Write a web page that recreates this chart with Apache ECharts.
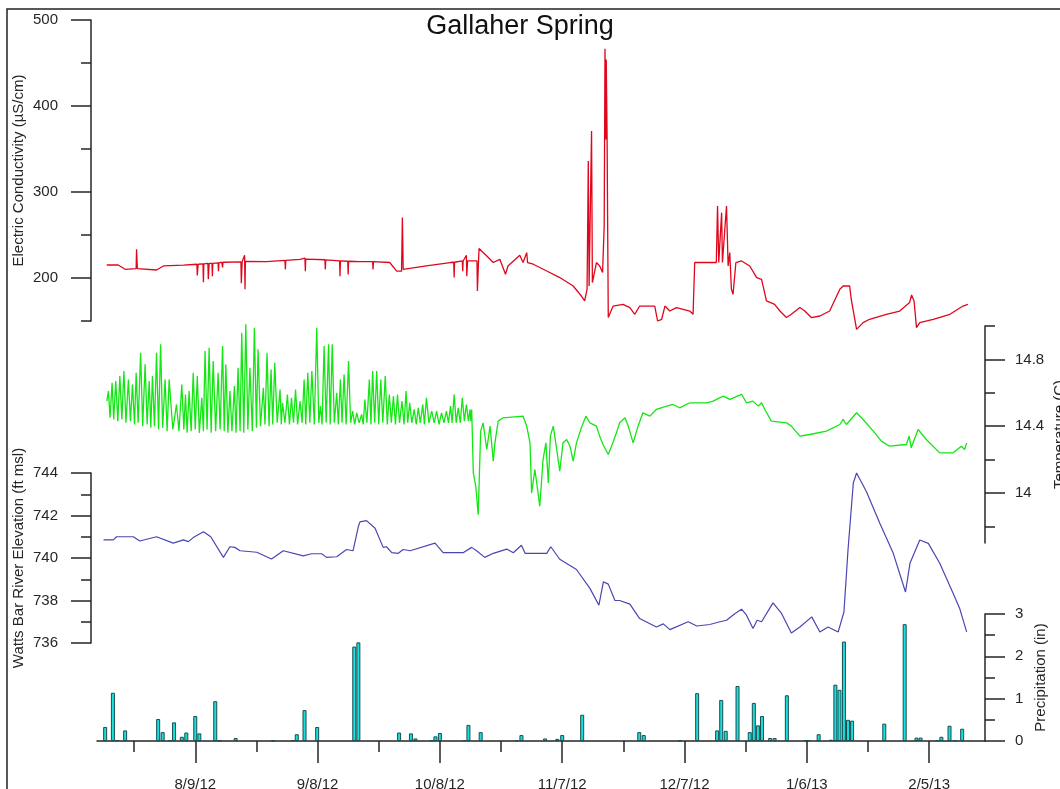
<!DOCTYPE html>
<html>
<head>
<meta charset="utf-8">
<title>Gallaher Spring</title>
<script src="https://cdn.jsdelivr.net/npm/echarts@6/dist/echarts.min.js"></script>
<style>
  html, body { margin: 0; padding: 0; background: #fff; }
  #chart { width: 1060px; height: 789px; }
</style>
</head>
<body>
<div id="chart"></div>
<script>
// x values are days counted from 8/9/12
const xMajorTicks = [0, 30, 60, 90, 120, 150, 180];
const xMinorTicks = [-15, 15, 45, 75, 105, 135, 165];

// Electric conductivity (uS/cm)
const ecData = [
  [-21.7, 215.1], [-18.9, 215.1], [-17.2, 210.1], [-14.5, 211], [-14.4, 233.4], [-14.2, 211], [-9.5, 209.3],
  [-7.8, 214], [-2.9, 215], [0.4, 216], [0.5, 203], [0.7, 216], [1.9, 216.5], [2.0, 195], [2.1, 216.5],
  [3.1, 217], [3.2, 198.5], [3.4, 217], [4.1, 217], [4.2, 202], [4.3, 217], [5.6, 217.7], [5.7, 207.8],
  [5.8, 217.7], [6.5, 218.3], [6.7, 212.4], [6.8, 218.3], [11.2, 218.8], [11.3, 193.8], [11.5, 218.8],
  [12.1, 226.4], [12.2, 187], [12.3, 219.4], [17.5, 219], [22.0, 220.6], [22.1, 210], [22.2, 220.6],
  [25.7, 221.7], [26.9, 223], [27.0, 207.8], [27.1, 222], [31.8, 221.2], [31.9, 210], [32.0, 221],
  [33.8, 220.6], [35.4, 220], [35.5, 202], [35.6, 220], [37.4, 219.5], [37.5, 204], [37.6, 219.5],
  [40.4, 219], [43.5, 219], [43.6, 210], [43.7, 219], [47.7, 218], [49.4, 208], [50.6, 208], [50.8, 270.2],
  [51.0, 210.1], [56.7, 214], [62.5, 218], [63.4, 218.3], [63.5, 200.5], [63.6, 218.3], [65.5, 219.8],
  [65.6, 207.8], [65.7, 219.8], [66.5, 226.4], [66.6, 202], [66.8, 219.8], [69.1, 219.8], [69.2, 184.9],
  [69.6, 234.2], [71.5, 225.6], [73.1, 218], [74.7, 221.7], [76.1, 204.3], [76.7, 214], [79.6, 226.4],
  [80.4, 218], [81.3, 229.5], [81.5, 218], [82.9, 216], [86.2, 208.1], [89.4, 200.5], [92.7, 190.7],
  [94.7, 179.1], [95.5, 173.3], [96.1, 186.9], [96.4, 336], [96.6, 190.7], [97.2, 371], [97.4, 194.7],
  [98.4, 218], [99.2, 214], [99.9, 206.3], [100.3, 260.5], [100.5, 466.7], [100.7, 361], [100.8, 454],
  [101.0, 369], [101.3, 154], [102.5, 167.4], [104.9, 169.4], [106.6, 165.6], [107.8, 157.8], [109.0, 167.4],
  [110.7, 167.4], [112.7, 167.4], [113.4, 150], [114.4, 152], [115.2, 167.4], [116.4, 161.6], [118.0, 165.6],
  [121.3, 161.6], [122.1, 157.8], [122.5, 218], [127.8, 218], [128.1, 283.7], [128.4, 218], [129.1, 276],
  [129.3, 218], [130.3, 283.7], [130.7, 214], [131.1, 229.5], [131.5, 186.9], [131.9, 181], [132.6, 218],
  [134.0, 219.8], [136.0, 214], [137.7, 200.5], [138.9, 198.5], [140.1, 173.3], [142.1, 169.4], [143.4, 161.6],
  [145.0, 154], [146.2, 157.8], [148.3, 165.6], [149.5, 161.6], [151.1, 154], [153.2, 155.8], [155.6, 161.6],
  [158.1, 186.9], [158.9, 190.7], [160.5, 190.7], [160.9, 175.2], [162.2, 140.3], [163.8, 148.1], [165.4, 152],
  [169.5, 157.8], [172.8, 161.6], [175.2, 171.4], [175.7, 180.2], [176.3, 173.3], [176.9, 142.3], [177.7, 148.1],
  [181.0, 152], [185.1, 157.8], [188.3, 167.4], [189.5, 169.4]
];

// Temperature (C)
const tempData = [
  [-21.7, 14.55], [-21.3, 14.61], [-20.9, 14.45], [-20.4, 14.66], [-20.0, 14.44], [-19.5, 14.67], [-19.0, 14.43],
  [-18.5, 14.70], [-18.0, 14.44], [-17.5, 14.73], [-17.0, 14.42], [-16.4, 14.68], [-15.9, 14.43], [-15.4, 14.65],
  [-14.9, 14.41], [-14.5, 14.72], [-14.0, 14.42], [-13.4, 14.84], [-12.9, 14.40], [-12.3, 14.77], [-11.8, 14.41],
  [-11.3, 14.67], [-10.9, 14.39], [-10.5, 14.70], [-10.0, 14.40], [-9.5, 14.84], [-9.0, 14.38], [-8.5, 14.89],
  [-8.0, 14.39], [-7.4, 14.68], [-6.9, 14.37], [-6.4, 14.68], [-5.5, 14.38], [-4.6, 14.53], [-4.0, 14.37],
  [-3.3, 14.65], [-2.8, 14.38], [-2.4, 14.59], [-2.0, 14.36], [-1.5, 14.61], [-1.0, 14.37], [-0.5, 14.72],
  [0.0, 14.38], [0.5, 14.70], [1.0, 14.36], [1.6, 14.57], [2.0, 14.37], [2.4, 14.85], [2.9, 14.38], [3.4, 14.87],
  [3.9, 14.36], [4.4, 14.79], [5.0, 14.37], [5.6, 14.72], [6.1, 14.38], [6.7, 14.88], [7.1, 14.37], [7.5, 14.77],
  [8.0, 14.36], [8.5, 14.61], [9.0, 14.37], [9.6, 14.64], [10.0, 14.36], [10.5, 14.75], [11.0, 14.37],
  [11.4, 14.96], [11.9, 14.36], [12.4, 15.01], [12.9, 14.38], [13.4, 14.75], [14.0, 14.37], [14.5, 14.99],
  [15.0, 14.39], [15.4, 14.86], [16.0, 14.40], [16.7, 14.63], [17.1, 14.41], [17.6, 14.84], [18.1, 14.40],
  [18.6, 14.74], [19.0, 14.41], [19.5, 14.78], [20.1, 14.42], [20.8, 14.62], [21.1, 14.41], [21.4, 14.54],
  [22.0, 14.42], [22.6, 14.59], [23.1, 14.41], [23.6, 14.57], [24.1, 14.42], [24.6, 14.62], [25.1, 14.41],
  [25.7, 14.55], [26.2, 14.42], [26.7, 14.68], [27.1, 14.41], [27.6, 14.72], [28.1, 14.42], [28.6, 14.73],
  [29.2, 14.41], [29.8, 14.99], [30.3, 14.42], [30.7, 14.52], [31.1, 14.41], [31.6, 14.88], [32.1, 14.42],
  [32.7, 14.89], [33.1, 14.41], [33.6, 14.89], [34.1, 14.42], [34.7, 14.60], [35.1, 14.41], [35.6, 14.68],
  [36.0, 14.42], [36.5, 14.71], [37.0, 14.41], [37.6, 14.79], [38.1, 14.42], [38.6, 14.49], [39.1, 14.41],
  [39.6, 14.48], [40.2, 14.42], [40.8, 14.47], [41.2, 14.41], [41.6, 14.56], [42.1, 14.42], [42.7, 14.68],
  [43.1, 14.41], [43.5, 14.73], [44.0, 14.42], [44.5, 14.73], [45.0, 14.41], [45.5, 14.68], [46.0, 14.42],
  [46.6, 14.70], [47.1, 14.41], [47.6, 14.59], [48.1, 14.42], [48.6, 14.58], [49.1, 14.41], [49.6, 14.59],
  [50.1, 14.42], [50.7, 14.55], [51.2, 14.41], [51.7, 14.61], [52.1, 14.42], [52.6, 14.54], [53.1, 14.42],
  [53.7, 14.50], [54.2, 14.41], [54.7, 14.51], [55.2, 14.42], [55.8, 14.53], [56.2, 14.41], [56.7, 14.57],
  [57.3, 14.42], [58.0, 14.49], [58.6, 14.42], [59.2, 14.49], [59.8, 14.41], [60.4, 14.48], [61.0, 14.42],
  [61.6, 14.49], [62.1, 14.42], [62.6, 14.52], [63.0, 14.42], [63.5, 14.59], [64.0, 14.42], [64.5, 14.51],
  [65.0, 14.42], [65.5, 14.57], [66.0, 14.43], [66.5, 14.53], [67.0, 14.43], [67.4, 14.50], [67.6, 14.43],
  [67.8, 14.50], [68.2, 14.12], [68.8, 14.04], [69.4, 13.87], [70.0, 14.37], [70.6, 14.42], [71.5, 14.26],
  [72.3, 14.40], [73.1, 14.19], [73.5, 14.30], [74.3, 14.43], [75.5, 14.45], [80.4, 14.46], [81.3, 14.40],
  [82.1, 14.30], [82.5, 14.00], [83.3, 14.14], [83.7, 14.07], [84.5, 13.92], [85.3, 14.20], [86.0, 14.30],
  [86.6, 14.06], [87.1, 14.34], [87.8, 14.40], [88.6, 14.27], [89.4, 14.13], [90.2, 14.30], [91.1, 14.32],
  [91.9, 14.28], [92.7, 14.19], [93.5, 14.30], [94.7, 14.39], [95.8, 14.46], [96.8, 14.42], [98.4, 14.40],
  [99.2, 14.34], [100.0, 14.29], [101.3, 14.23], [102.1, 14.28], [103.3, 14.36], [104.1, 14.42], [105.4, 14.45],
  [106.2, 14.40], [107.4, 14.30], [108.6, 14.40], [109.8, 14.48], [111.5, 14.46], [113.1, 14.50], [115.6, 14.52],
  [117.2, 14.53], [118.8, 14.51], [121.3, 14.54], [125.4, 14.54], [127.0, 14.55], [129.5, 14.58], [131.1, 14.56],
  [134.0, 14.59], [135.2, 14.54], [136.8, 14.55], [138.1, 14.52], [138.9, 14.54], [139.7, 14.50], [141.3, 14.43],
  [145.0, 14.42], [146.2, 14.40], [148.3, 14.34], [150.7, 14.35], [154.8, 14.37], [158.1, 14.41], [158.9, 14.44],
  [159.7, 14.41], [162.2, 14.48], [163.8, 14.44], [166.3, 14.37], [168.3, 14.31], [170.3, 14.28], [174.4, 14.29],
  [175.1, 14.34], [175.6, 14.27], [177.3, 14.38], [179.3, 14.32], [182.6, 14.24], [185.9, 14.24], [187.9, 14.28],
  [188.7, 14.26], [189.2, 14.30]
];

// Watts Bar river elevation (ft msl)
const riverData = [
  [-22.5, 740.85], [-20.1, 740.85], [-19.3, 741.0], [-15.2, 741.0], [-13.6, 740.8], [-9.5, 741.0], [-5.4, 740.7],
  [-2.9, 740.85], [-1.7, 740.77], [-0.5, 740.96], [2.0, 741.24], [3.8, 741.0], [6.9, 740.03], [8.5, 740.53],
  [9.7, 740.5], [11.0, 740.34], [15.1, 740.27], [18.7, 739.95], [21.6, 740.34], [26.5, 740.1], [28.5, 740.2],
  [31.0, 740.2], [32.2, 740.03], [34.7, 740.06], [37.1, 740.4], [38.7, 740.34], [40.0, 741.48], [40.4, 741.7],
  [42.0, 741.76], [44.1, 741.4], [46.1, 740.5], [46.9, 740.53], [48.2, 740.25], [49.8, 740.22], [51.0, 740.4],
  [52.7, 740.34], [58.8, 740.7], [60.8, 740.25], [65.7, 740.25], [67.8, 740.5], [69.0, 740.34], [71.0, 740.03],
  [73.1, 740.22], [76.4, 740.42], [78.0, 740.25], [80.0, 740.6], [80.9, 740.22], [86.2, 740.22], [87.2, 740.53],
  [89.4, 739.94], [93.5, 739.46], [96.8, 738.57], [99.0, 737.78], [100.1, 738.88], [101.3, 738.77], [102.9, 738.01],
  [104.1, 738.0], [106.6, 737.83], [109.0, 737.15], [113.1, 736.75], [114.8, 736.9], [116.4, 736.63], [120.9, 737.0],
  [123.0, 736.8], [126.2, 736.87], [128.7, 737.0], [130.3, 737.07], [132.4, 737.39], [134.0, 737.59], [135.2, 737.31],
  [136.8, 736.68], [137.8, 737.07], [138.9, 737.0], [141.7, 737.89], [143.8, 737.39], [146.2, 736.47], [148.3, 736.75],
  [151.2, 737.23], [153.2, 736.52], [155.2, 736.75], [157.7, 736.52], [159.1, 737.46], [160.1, 740.38], [161.4, 743.53],
  [162.2, 744.0], [164.6, 743.13], [167.9, 741.64], [171.2, 740.22], [174.2, 738.4], [175.3, 739.75], [177.7, 740.85],
  [179.8, 740.69], [182.6, 739.75], [185.9, 738.33], [187.5, 737.62], [189.2, 736.52]
];

// Precipitation (in)
const rainData = [
  [-22.1, 0.33], [-20.2, 1.14], [-19.2, 0.02], [-17.2, 0.25], [-9.1, 0.52], [-8.0, 0.21], [-6.2, 0.02], [-5.2, 0.44],
  [-3.3, 0.10], [-2.2, 0.20], [0, 0.59], [1.0, 0.18], [4.9, 0.94], [6.0, 0.01], [9.9, 0.07], [19.1, 0.01], [24.0, 0.02],
  [24.9, 0.16], [26.8, 0.73], [29.9, 0.33], [39.0, 2.23], [40.0, 2.33], [50.0, 0.20], [52.9, 0.18], [54.0, 0.06],
  [58.0, 0.02], [58.9, 0.11], [60.0, 0.19], [66.0, 0.02], [67.0, 0.38], [70.0, 0.21], [78.8, 0.02], [80.0, 0.14],
  [85.8, 0.06], [88.8, 0.05], [90.0, 0.14], [94.9, 0.62], [108.9, 0.21], [110.0, 0.14], [118.9, 0.01], [123.1, 1.13],
  [128.0, 0.25], [129.0, 0.97], [130.1, 0.24], [133.0, 1.30], [136.0, 0.21], [137.0, 0.90], [138.0, 0.37],
  [139.0, 0.59], [141.0, 0.07], [142.1, 0.07], [145.1, 1.08], [149.8, 0.02], [150.3, 0.02], [152.9, 0.16],
  [155.9, 0.03], [157.0, 1.33], [158.0, 1.21], [159.1, 2.35], [160.1, 0.50], [161.1, 0.48], [169.0, 0.41],
  [174.0, 2.76], [176.9, 0.08], [177.9, 0.08], [182.0, 0.02], [183.0, 0.10], [185.0, 0.36], [186.3, 0.02],
  [188.1, 0.29]
];

const ecMajor = [200, 300, 400, 500], ecMinor = [150, 250, 350, 450];
const tempMajor = [14, 14.4, 14.8], tempMinor = [13.8, 14.2, 14.6, 15.0];
const riverMajor = [736, 738, 740, 742, 744], riverMinor = [737, 739, 741, 743];
const rainMajor = [0, 1, 2, 3], rainMinor = [0.5, 1.5, 2.5];

const X_MIN = -24.1, X_MAX = 193.7;
const INK = '#262626';
const FONT = '"Liberation Sans", Arial, sans-serif';
const DAY0 = Date.UTC(2012, 7, 9);

function fmtDate(d) {
  const t = new Date(DAY0 + Math.round(d) * 86400000);
  return (t.getUTCMonth() + 1) + '/' + t.getUTCDate() + '/' + String(t.getUTCFullYear()).slice(2);
}

// one y axis carries line, long ticks and labels, a twin carries the short ticks
function yPair(grid, pos, min, max, major, minor, name, nameGap, offset) {
  const line = { color: INK, width: 1.5 };
  return [{
    type: 'value', gridIndex: grid, position: pos, offset: offset, min: min, max: max,
    name: name, nameLocation: 'middle', nameGap: nameGap, nameMoveOverlap: false,
    nameTextStyle: { fontSize: 15, color: INK, fontFamily: FONT },
    axisLine: { show: true, onZero: false, lineStyle: line },
    axisTick: { show: true, length: 20, customValues: major, lineStyle: line },
    axisLabel: { show: true, customValues: major, margin: pos === 'left' ? 33 : 30, fontSize: 15, color: INK, fontFamily: FONT },
    splitLine: { show: false }
  }, {
    type: 'value', gridIndex: grid, position: pos, offset: offset, min: min, max: max,
    axisLine: { show: false, onZero: false },
    axisTick: { show: true, length: 10, customValues: minor, lineStyle: line },
    axisLabel: { show: false },
    splitLine: { show: false }
  }];
}

function hiddenX(grid) {
  return { type: 'value', gridIndex: grid, min: X_MIN, max: X_MAX, show: false };
}

function panel(top, height) {
  return { left: 97, right: 75, top: top, height: height, containLabel: false, outerBoundsMode: 'none' };
}

const chart = echarts.init(document.getElementById('chart'));

chart.setOption({
  animation: false,
  backgroundColor: '#fff',
  graphic: [{
    type: 'rect', silent: true, z: -1,
    shape: { x: 7, y: 9, width: 1200, height: 1000 },
    style: { fill: 'none', stroke: '#222', lineWidth: 1.5 }
  }, {
    type: 'text', silent: true, x: 520, y: 27,
    style: {
      text: 'Gallaher Spring', fill: '#111', font: '27px "Liberation Sans", Arial, sans-serif',
      textAlign: 'center', textVerticalAlign: 'middle'
    }
  }],
  grid: [panel(20, 301), panel(326, 217), panel(473, 170), panel(614, 127)],
  xAxis: [
    hiddenX(0), hiddenX(1), hiddenX(2),
    {
      type: 'value', gridIndex: 3, min: X_MIN, max: X_MAX, position: 'bottom',
      axisLine: { show: true, onZero: false, lineStyle: { color: INK, width: 1.5 } },
      axisTick: { show: true, length: 22, customValues: xMajorTicks, lineStyle: { color: INK, width: 1.5 } },
      axisLabel: { show: true, customValues: xMajorTicks, margin: 36, fontSize: 15, color: INK, fontFamily: FONT, formatter: fmtDate },
      splitLine: { show: false }
    },
    {
      type: 'value', gridIndex: 3, min: X_MIN, max: X_MAX, position: 'bottom',
      axisLine: { show: false, onZero: false },
      axisTick: { show: true, length: 11, customValues: xMinorTicks, lineStyle: { color: INK, width: 1.5 } },
      axisLabel: { show: false },
      splitLine: { show: false }
    }
  ],
  yAxis: [].concat(
    yPair(0, 'left', 150, 500, ecMajor, ecMinor, 'Electric Conductivity (\u00b5S/cm)', 65, 6),
    yPair(1, 'right', 13.7, 15.0, tempMajor, tempMinor, 'Temperature (C)', 67, 0),
    yPair(2, 'left', 736, 744, riverMajor, riverMinor, 'Watts Bar River Elevation (ft msl)', 65, 6),
    yPair(3, 'right', 0, 3, rainMajor, rainMinor, 'Precipitation (in)', 48, 0)
  ),
  series: [
    {
      name: 'EC', type: 'line', xAxisIndex: 0, yAxisIndex: 0, data: ecData,
      showSymbol: false, clip: false, lineStyle: { color: '#e0061c', width: 1.3 }
    },
    {
      name: 'Temperature', type: 'line', xAxisIndex: 1, yAxisIndex: 2, data: tempData,
      showSymbol: false, clip: false, lineStyle: { color: '#14e614', width: 1.3 }
    },
    {
      name: 'River', type: 'line', xAxisIndex: 2, yAxisIndex: 4, data: riverData,
      showSymbol: false, clip: false, lineStyle: { color: '#4a46b2', width: 1.2 }
    },
    {
      name: 'Precipitation', type: 'bar', xAxisIndex: 3, yAxisIndex: 6, data: rainData,
      barWidth: 4, itemStyle: { color: '#16e0e0', borderColor: '#1d4c4c', borderWidth: 1 }
    }
  ]
});
</script>
</body>
</html>
